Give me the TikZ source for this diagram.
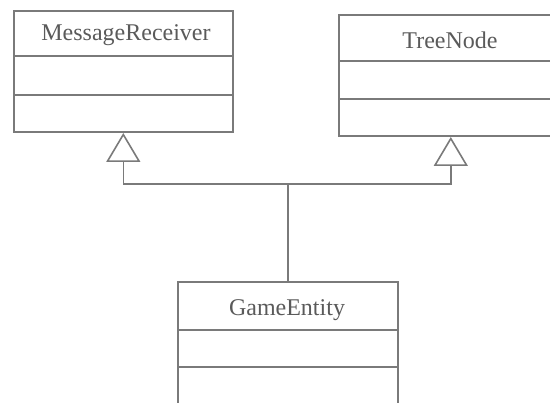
\documentclass[tikz,border=0pt]{standalone}
\usepackage{fontspec}
\setmainfont{Liberation Serif}
\usetikzlibrary{arrows.meta}
\definecolor{umlline}{HTML}{7A7A7A}
\definecolor{umltext}{HTML}{5A5A5A}
\begin{document}
\begin{tikzpicture}[x=1pt,y=1pt,
  classbox/.style={draw=umlline, line width=1.6pt, rectangle, inner sep=0pt, anchor=south west},
  compart/.style={draw=umlline, line width=1.6pt},
  classname/.style={text=umltext, font=\fontsize{24}{26}\selectfont, inner sep=0pt},
  gen/.style={draw=umlline, line width=1.6pt},
  inherit/.style={gen, -{Triangle[open, length=29pt, width=34pt, line width=1.6pt]}}]
\useasboundingbox (0,0) rectangle (550,403);
\clip (0,0) rectangle (550,403);
% MessageReceiver class
\node[classbox, minimum width=219pt, minimum height=121pt] (mr) at (13,270) {};
\draw[compart] (13,347) -- (232,347);
\draw[compart] (13,308) -- (232,308);
\node[classname] (mrname) at (126,368) {MessageReceiver};
% TreeNode class
\node[classbox, minimum width=222pt, minimum height=121pt] (tn) at (338,266) {};
\draw[compart] (338,342) -- (560,342);
\draw[compart] (338,304) -- (560,304);
\node[classname] (tnname) at (450,363) {TreeNode};
% GameEntity class
\node[classbox, minimum width=220pt, minimum height=124pt] (ge) at (177,-4) {};
\draw[compart] (177,73) -- (397,73);
\draw[compart] (177,36) -- (397,36);
\node[classname] (gename) at (287,93) {GameEntity};
% generalisation connectors
\coordinate (junction) at (ge.north |- 0,219);
\draw[gen] (ge.north) -- (junction);
\draw[inherit] (junction) -| (mr.south);
\draw[inherit] (junction) -| ([xshift=1pt]tn.south);
\end{tikzpicture}
\end{document}
